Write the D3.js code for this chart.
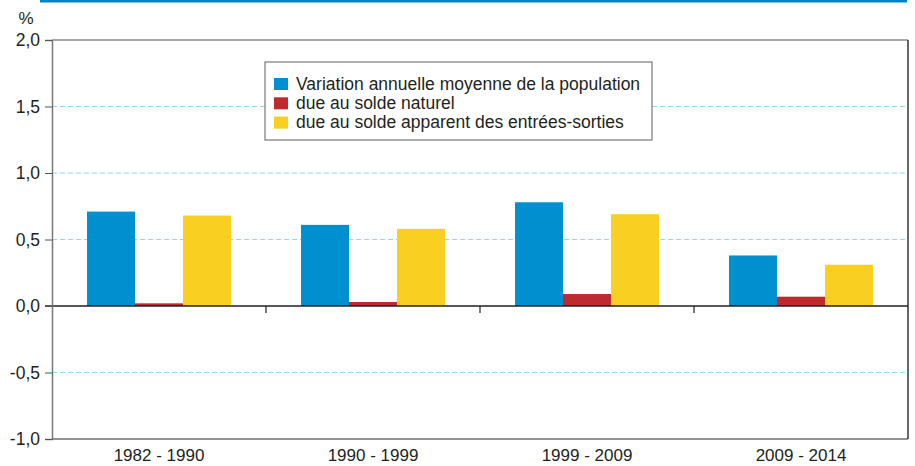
<!DOCTYPE html>
<meta charset="utf-8">
<script src="https://d3js.org/d3.v7.min.js"></script>
<style>
  body { margin: 0; background: #fff; }
  text { font-family: "Liberation Sans", Arial, sans-serif; fill: #231f20; }
</style>
<div id="chart"></div>
<script>
// data
const periods = ["1982 - 1990", "1990 - 1999", "1999 - 2009", "2009 - 2014"];
const seriesNames = [
  "Variation annuelle moyenne de la population",
  "due au solde naturel",
  "due au solde apparent des entrées-sorties"
];
const variation = [0.71, 0.61, 0.78, 0.38];
const soldeNaturel = [0.02, 0.03, 0.09, 0.07];
const soldeMigratoire = [0.68, 0.58, 0.69, 0.31];
const yTicks = [-1.0, -0.5, 0.0, 0.5, 1.0, 1.5, 2.0];
const colors = ["#0090d0", "#be2a2e", "#f9cf21"];

const W = 915, H = 466;
const margin = {top: 40, right: 7, bottom: 27, left: 52};
const width = W - margin.left - margin.right,
      height = H - margin.top - margin.bottom;

const svgRoot = d3.select("#chart").append("svg")
  .attr("width", W).attr("height", H);

// blue rule at the top
svgRoot.append("rect")
  .attr("x", 40).attr("y", 0).attr("width", 867).attr("height", 2.5)
  .attr("fill", "#0083c4");

const svg = svgRoot.append("g")
  .attr("transform", `translate(${margin.left},${margin.top})`);

const series = [variation, soldeNaturel, soldeMigratoire];
const data = [];
periods.forEach((p, i) => {
  series.forEach((s, k) => data.push({period: p, key: k, value: s[i]}));
});

const x = d3.scaleBand().domain(periods).range([0, width]).padding(0);
const xInner = d3.scaleBand().domain([0, 1, 2])
  .range([0, x.bandwidth()]).paddingOuter(0.73).paddingInner(0);
const y = d3.scaleLinear().domain([-1, 2]).range([height, 0]);

const fmt = d => d3.format(".1f")(d).replace(".", ",").replace("−", "-");

// grid lines
svg.append("g")
  .selectAll("line")
  .data(yTicks.filter(d => d !== 0 && d !== 2 && d !== -1))
  .join("line")
    .attr("x1", 0).attr("x2", width)
    .attr("y1", d => y(d)).attr("y2", d => y(d))
    .attr("stroke", "#8fd8f0")
    .attr("stroke-width", 1)
    .attr("stroke-dasharray", "5,3");

// frame
svg.append("line").attr("x1", 0).attr("x2", width).attr("y1", 0).attr("y2", 0)
  .attr("stroke", "#8a8a8a").attr("stroke-width", 1.5);
svg.append("line").attr("x1", 0).attr("x2", width).attr("y1", height).attr("y2", height)
  .attr("stroke", "#6f6f6f").attr("stroke-width", 1.5);
svg.append("line").attr("x1", width).attr("x2", width).attr("y1", 0).attr("y2", height)
  .attr("stroke", "#333").attr("stroke-width", 1.5);

// bars
svg.append("g")
  .selectAll("rect")
  .data(data)
  .join("rect")
    .attr("x", d => x(d.period) + xInner(d.key))
    .attr("y", d => y(Math.max(0, d.value)))
    .attr("width", xInner.bandwidth())
    .attr("height", d => Math.abs(y(d.value) - y(0)))
    .attr("fill", d => colors[d.key]);

// zero line with category ticks
svg.append("line").attr("x1", -7).attr("x2", width).attr("y1", y(0)).attr("y2", y(0))
  .attr("stroke", "#231f20").attr("stroke-width", 1.3);
svg.append("g")
  .selectAll("line")
  .data(periods.slice(1))
  .join("line")
    .attr("x1", d => x(d)).attr("x2", d => x(d))
    .attr("y1", y(0)).attr("y2", y(0) + 7)
    .attr("stroke", "#231f20").attr("stroke-width", 1.2);

// y axis
const yAxis = svg.append("g")
  .call(d3.axisLeft(y).tickValues(yTicks).tickFormat(fmt).tickSize(7).tickPadding(5));
yAxis.select(".domain").attr("stroke", "#777").attr("stroke-width", 1.5);
yAxis.selectAll(".tick line").attr("stroke", "#555");
yAxis.selectAll(".tick text")
  .style("font-size", "17.5px")
  .style("font-family", "Liberation Sans, Arial, sans-serif")
  .attr("fill", "#231f20");

svgRoot.append("text")
  .attr("x", 26).attr("y", 24)
  .attr("text-anchor", "middle")
  .style("font-size", "17px")
  .text("%");

// x labels
svg.append("g")
  .selectAll("text")
  .data(periods)
  .join("text")
    .attr("x", d => x(d) + x.bandwidth() / 2)
    .attr("y", height + 22)
    .attr("text-anchor", "middle")
    .style("font-size", "17px")
    .text(d => d);

// legend
const legend = svgRoot.append("g").attr("transform", "translate(265,62)");
legend.append("rect")
  .attr("width", 387).attr("height", 78)
  .attr("fill", "#fff").attr("stroke", "#777").attr("stroke-width", 1.2);
seriesNames.forEach((name, i) => {
  const row = legend.append("g").attr("transform", `translate(9,${16 + i * 19.3})`);
  row.append("rect").attr("width", 14).attr("height", 12).attr("fill", colors[i]);
  row.append("text").attr("x", 22).attr("y", 11.5)
    .style("font-size", "17.5px").text(name);
});
</script>
